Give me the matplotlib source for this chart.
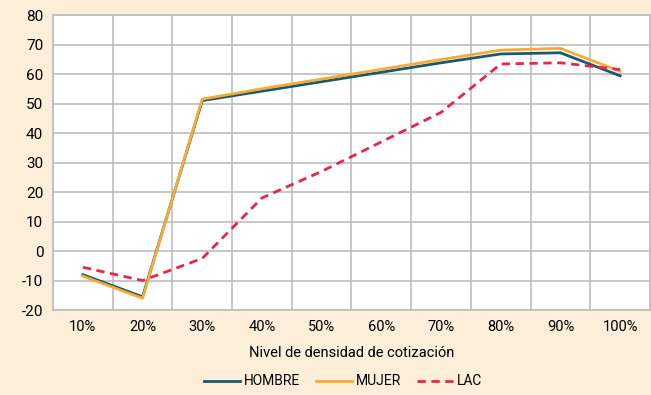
import numpy as np
import matplotlib
matplotlib.use("Agg")
import matplotlib.pyplot as plt

plt.rcParams['font.family'] = ['Roboto', 'DejaVu Sans']
plt.rcParams['axes.unicode_minus'] = False

# Data
niveles = ['10%', '20%', '30%', '40%', '50%', '60%', '70%', '80%', '90%', '100%']
hombre = [-8.0, -15.5, 51.0, 54.2, 57.4, 60.6, 63.8, 66.8, 67.2, 59.4]
mujer = [-8.5, -16.0, 51.5, 55.0, 58.3, 61.6, 64.9, 68.1, 68.7, 60.9]
lac = [-5.5, -10.0, -2.5, 18.0, 27.0, 37.0, 47.0, 63.4, 63.8, 61.5]

bg = '#FDEEDA'
grid_col = '#BDBDBD'
fs = 10.5

fig = plt.figure(figsize=(6.51, 3.95), dpi=100, facecolor=bg)
ax = fig.add_axes([0.0814, 0.215, 0.917, 0.747])
ax.set_facecolor('white')

x = np.arange(len(niveles))
ax.plot(x, hombre, color='#155A72', lw=2, label='HOMBRE')
ax.plot(x, mujer, color='#F9AA33', lw=2, label='MUJER')
ax.plot(x, lac, color='#E8254A', lw=2, ls=(0, (3, 2)), label='LAC')

ax.set_xlim(-0.5, len(niveles) - 0.5)
ax.set_ylim(-20, 80)
ax.set_yticks(np.arange(-20, 81, 10))

# category labels centred, grid at category boundaries (Excel style)
ax.set_xticks(x)
ax.set_xticklabels(niveles)
ax.set_xticks(np.arange(-0.5, len(niveles), 1), minor=True)
ax.tick_params(axis='x', which='both', length=0, pad=7, labelsize=fs)
ax.tick_params(axis='y', length=0, pad=7, labelsize=fs + 0.5)
ax.grid(True, which='minor', axis='x', color=grid_col, lw=1.2)
ax.grid(True, which='major', axis='y', color=grid_col, lw=1.2)
ax.set_axisbelow(True)
for s in ax.spines.values():
    s.set_color(grid_col)
    s.set_linewidth(1.2)

ax.set_xlabel('Nivel de densidad de cotización', fontsize=fs, labelpad=9)

fig.legend(loc='lower center', bbox_to_anchor=(0.527, -0.015), ncol=3, frameon=False,
           fontsize=10, handlelength=2.6, columnspacing=1.1, handletextpad=0.3)

fig.savefig('out.png', dpi=100, facecolor=bg)
